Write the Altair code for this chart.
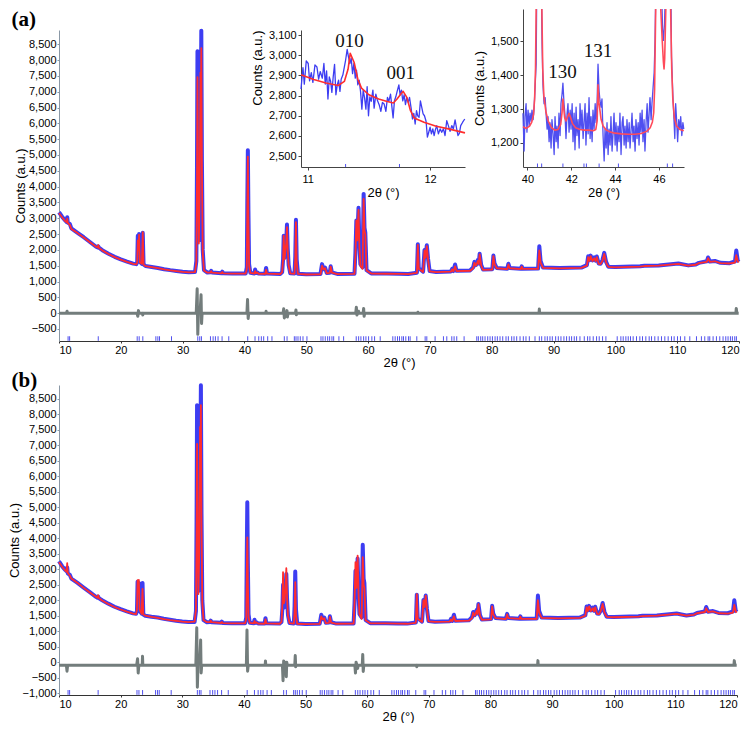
import altair as alt
import pandas as pd

# ---------------- main patterns (panel a & b) ----------------
tt_main = [10.0, 10.5, 11.0, 11.25, 11.33, 11.42, 11.75, 12.0, 13.0, 14.0, 15.0, 16.0, 16.25, 16.35, 16.45,
           17.0, 18.0, 19.0, 20.0, 21.0, 22.0, 22.5, 22.65, 22.75, 22.85, 22.95, 23.08, 23.4, 23.55, 23.68,
           24.0, 25.0, 26.0, 27.0, 28.0, 29.0, 30.0, 31.0, 32.0, 32.22, 32.32, 32.40, 32.50, 32.62, 32.75,
           32.88, 32.95, 33.02, 33.12, 33.25, 33.45, 34.0, 34.5, 34.62, 34.75, 36.3, 36.42, 36.55, 38.0,
           40.2, 40.38, 40.46, 40.55, 40.64, 40.75, 40.95, 41.6, 41.72, 41.85, 42.05, 42.3, 43.35, 43.5,
           43.65, 45.8, 46.1, 46.25, 46.35, 46.48, 46.6, 46.75, 46.88, 47.0, 47.15, 47.4, 48.1, 48.22,
           48.33, 48.45, 48.65, 50.0, 52.3, 52.55, 52.8, 53.05, 53.3, 53.8, 53.95, 54.15, 55.0, 57.8,
           57.95, 58.1, 58.25, 58.45, 58.6, 58.75, 59.1, 59.28, 59.42, 59.55, 59.75, 60.5, 63.0, 65.0,
           66.5, 67.9, 68.05, 68.2, 68.9, 69.13, 69.3, 69.5, 69.7, 69.95, 71.0, 73.4, 73.6, 73.8, 74.07,
           74.3, 76.5, 77.0, 77.2, 77.45, 77.75, 77.9, 78.05, 78.3, 78.6, 80.1, 80.27, 80.45, 80.8, 82.5,
           82.7, 82.9, 84.7, 84.85, 85.0, 87.5, 87.7, 87.9, 88.3, 91.0, 94.5, 95.4, 95.6, 95.8, 96.0,
           96.3, 96.6, 96.8, 97.0, 97.3, 97.6, 97.9, 98.2, 98.5, 98.85, 100.0, 104.0, 104.7, 107.0,
           110.2, 111.8, 113.0, 113.5, 114.8, 115.0, 115.3, 116.1, 117.0, 118.5, 119.35, 119.56, 119.8,
           119.95]
calc_a = [3160, 3030, 2910, 2870, 2990, 2850, 2790, 2660, 2530, 2390, 2240, 2100, 2080, 2150, 2060,
          1985, 1870, 1770, 1690, 1620, 1560, 1545, 1600, 2300, 2000, 2480, 1600, 1560, 2560, 1530,
          1485, 1455, 1420, 1385, 1355, 1330, 1305, 1290, 1300, 1600, 4200, 7460, 4300, 2200, 3600,
          7600, 6800, 8380, 4500, 1900, 1350, 1280, 1285, 1330, 1280, 1260, 1300, 1258, 1250,
          1250, 1400, 3200, 4950, 3000, 1500, 1270, 1250, 1330, 1265, 1285, 1245, 1240, 1370,
          1250, 1235, 1300, 1700, 2450, 1700, 1930, 2200, 2716, 2000, 1500, 1260, 1245, 1700,
          2874, 1600, 1240, 1222, 1230, 1500, 1380, 1420, 1260, 1270, 1470, 1280, 1235, 1240,
          1800, 2930, 2300, 3265, 2100, 1500, 1400, 3612, 2600, 2500, 1350, 1250, 1245, 1240,
          1235, 1270, 2160, 1400, 1300, 1980, 1750, 2117, 1700, 1320, 1295, 1310, 1380, 1320, 1480,
          1330, 1340, 1420, 1593, 1500, 1650, 1550, 1861, 1500, 1370, 1380, 1801, 1550, 1420, 1390,
          1540, 1420, 1395, 1470, 1400, 1400, 1981, 1600, 1430, 1415, 1430, 1500, 1771, 1650, 1801,
          1650, 1735, 1640, 1770, 1560, 1550, 1650, 1870, 1600, 1460, 1450, 1470, 1490, 1500,
          1560, 1500, 1530, 1580, 1620, 1738, 1620, 1640, 1580, 1570, 1600, 1835, 1640,
          1600]
obs_a = [3190, 3050, 2930, 2880, 3030, 2860, 2820, 2680, 2540, 2400, 2250, 2100, 2080, 2110, 2070,
         1990, 1880, 1780, 1700, 1630, 1565, 1550, 1620, 2450, 2050, 2500, 1620, 1560, 2540, 1540,
         1490, 1460, 1430, 1390, 1360, 1335, 1310, 1295, 1300, 1650, 4600, 8280, 4800, 2300, 4000,
         7890, 7000, 8930, 4800, 2000, 1360, 1285, 1290, 1340, 1285, 1265, 1310, 1262, 1255,
         1255, 1450, 3400, 5150, 3250, 1550, 1275, 1255, 1380, 1270, 1290, 1250, 1245, 1430,
         1255, 1240, 1300, 1700, 2450, 1750, 1950, 2250, 2800, 2050, 1520, 1265, 1250, 1800,
         2950, 1700, 1245, 1228, 1240, 1550, 1390, 1440, 1270, 1280, 1480, 1290, 1240, 1245,
         1900, 2930, 2350, 3330, 2150, 1550, 1450, 3770, 2700, 2550, 1360, 1255, 1250, 1245,
         1240, 1280, 2180, 1420, 1310, 2000, 1780, 2150, 1720, 1330, 1300, 1320, 1400, 1330, 1540,
         1340, 1350, 1450, 1620, 1520, 1680, 1570, 1880, 1520, 1380, 1390, 1820, 1570, 1430, 1400,
         1560, 1430, 1400, 1480, 1405, 1410, 2117, 1650, 1440, 1425, 1440, 1520, 1800, 1670, 1820,
         1670, 1760, 1660, 1790, 1570, 1560, 1670, 1907, 1620, 1470, 1460, 1480, 1500, 1510,
         1570, 1510, 1540, 1590, 1640, 1760, 1630, 1650, 1590, 1580, 1640, 1981, 1660,
         1620]
calc_b = [3230, 3080, 2960, 2920, 3200, 2880, 2800, 2700, 2560, 2400, 2250, 2110, 2080, 2160, 2070,
          1990, 1880, 1780, 1700, 1630, 1570, 1555, 1700, 2650, 2300, 2660, 1700, 1560, 2370, 1540,
          1500, 1460, 1430, 1390, 1360, 1335, 1310, 1295, 1310, 1700, 4000, 7050, 4200, 2200, 3500,
          7600, 6800, 8300, 4400, 1900, 1360, 1290, 1290, 1340, 1290, 1265, 1300, 1262, 1255,
          1255, 1400, 2800, 4030, 2600, 1450, 1270, 1255, 1330, 1265, 1285, 1245, 1240, 1380,
          1250, 1240, 1300, 1900, 2906, 1900, 2000, 2400, 3035, 2100, 1500, 1260, 1245, 1600,
          2586, 1500, 1240, 1228, 1235, 1480, 1380, 1420, 1260, 1270, 1460, 1280, 1240, 1245,
          1900, 3227, 2400, 3440, 2200, 1550, 1400, 3388, 2500, 2400, 1350, 1255, 1250, 1245,
          1240, 1270, 2200, 1400, 1300, 2000, 1780, 2150, 1720, 1320, 1300, 1310, 1380, 1320, 1480,
          1330, 1340, 1420, 1600, 1500, 1660, 1550, 1870, 1500, 1370, 1380, 1800, 1550, 1420, 1390,
          1540, 1420, 1395, 1470, 1400, 1400, 2000, 1600, 1430, 1415, 1430, 1500, 1780, 1650, 1800,
          1650, 1740, 1640, 1770, 1560, 1550, 1650, 1880, 1600, 1460, 1450, 1470, 1490, 1500,
          1560, 1500, 1530, 1580, 1620, 1740, 1620, 1640, 1580, 1570, 1600, 1850, 1640,
          1600]
obs_b = [3260, 3100, 2980, 2930, 3060, 2870, 2820, 2700, 2560, 2410, 2260, 2110, 2080, 2120, 2070,
         2000, 1890, 1790, 1710, 1640, 1575, 1560, 1650, 2600, 2100, 2560, 1650, 1570, 2560, 1540,
         1500, 1465, 1440, 1400, 1370, 1340, 1315, 1300, 1300, 1650, 4600, 8300, 4800, 2300, 4000,
         7850, 7000, 8940, 4800, 2000, 1360, 1290, 1295, 1340, 1290, 1270, 1310, 1265, 1258,
         1258, 1450, 3400, 5160, 3200, 1550, 1275, 1258, 1370, 1270, 1290, 1250, 1245, 1420,
         1255, 1245, 1300, 1750, 2500, 1760, 1950, 2300, 2850, 2050, 1520, 1265, 1250, 1800,
         2926, 1700, 1245, 1232, 1240, 1530, 1390, 1440, 1270, 1280, 1480, 1290, 1245, 1250,
         1900, 2950, 2350, 3350, 2150, 1550, 1450, 3792, 2700, 2550, 1360, 1260, 1255, 1250,
         1245, 1280, 2180, 1420, 1310, 2010, 1790, 2150, 1720, 1330, 1305, 1320, 1400, 1330, 1530,
         1340, 1350, 1450, 1620, 1520, 1680, 1570, 1880, 1520, 1380, 1390, 1820, 1570, 1430, 1400,
         1560, 1430, 1400, 1480, 1405, 1410, 2150, 1650, 1440, 1425, 1440, 1520, 1800, 1670, 1820,
         1670, 1760, 1660, 1790, 1570, 1560, 1670, 1910, 1620, 1470, 1460, 1480, 1500, 1510,
         1570, 1510, 1540, 1590, 1640, 1780, 1630, 1650, 1590, 1580, 1640, 2000, 1660,
         1620]

tt_diff = [10.0, 11.2, 11.3, 11.4, 22.6, 22.75, 22.85, 22.95, 23.5, 23.55, 23.6, 32.2, 32.35, 32.45,
           32.55, 32.85, 32.98, 33.06, 33.15, 40.4, 40.5, 40.6, 40.7, 43.45, 43.5, 43.55, 46.25,
           46.35, 46.45, 46.8, 46.88, 46.95, 47.05, 48.25, 48.33, 48.4, 48.5, 58.0, 58.1, 58.2, 58.45,
           58.55, 59.2, 59.28, 59.36, 59.45, 68.0, 68.05, 68.1, 87.65, 87.7, 87.75, 119.5, 119.56,
           119.65, 119.95]
diff_a = [0, 0, 60, 0, 0, -100, 80, 0, 0, -60, 0, 0, 770, -670,
          0, 120, 580, -330, 0, 0, 430, -170, 0, 0, 60, 0, 0,
          140, -150, 0, 80, -120, 0, 0, 100, -50, 0, 0, 190, -60, 60,
          0, 0, 150, -100, 0, 0, 30, 0, 0, 130, 0, 0, 150,
          0, 0]
diff_b = [-100, -100, -290, -100, -100, 110, -350, -100, -100, 190, -100, -100, 1110, -810,
          -100, 100, 715, -350, -100, -100, 1035, -290, -100, -100, 40, -100, -100,
          -600, 40, -100, -470, 0, -100, -100, 215, -150, -100, -100, -350, 0, -200,
          -100, -100, 250, -300, -100, -100, -150, -100, -100, 50, -100, -100, 50,
          -100, -100]

refl = [11.47, 11.72, 16.35, 22.65, 22.97, 23.56, 25.67, 25.99, 26.26, 28.2, 32.45, 32.77, 33.04,
        34.5, 34.93, 35.3, 35.73, 36.38, 37.46, 40.53, 41.71, 42.31, 42.73, 43.11, 43.76, 44.45,
        46.45, 46.89, 48.07, 48.34, 48.66, 49.03, 49.47, 50.11, 52.38, 52.7, 53.07, 53.46, 53.78,
        54.15, 54.43, 55.28, 56.04, 58.08, 58.47, 58.84, 59.28, 59.65, 60.08, 60.61, 61.05, 61.96,
        64.0, 64.38, 64.76, 65.08, 65.46, 65.73, 66.1, 66.54, 66.8, 67.88, 69.23, 69.5, 70.84,
        72.19, 72.73, 73.54, 73.91, 74.34, 75.53, 77.58, 77.84, 78.22, 78.54, 78.92, 79.35, 79.73,
        80.11, 80.54, 80.91, 81.34, 81.78, 82.31, 82.69, 83.23, 83.61, 84.04, 84.58, 85.11, 85.54,
        86.08, 87.0, 87.7, 88.08, 88.61, 88.99, 89.42, 89.8, 90.34, 90.77, 91.2, 91.68, 92.11,
        92.55, 92.92, 93.35, 93.73, 94.27, 94.97, 95.51, 95.88, 96.42, 96.96, 97.39, 97.93, 98.47,
        100.3, 100.89, 101.27, 101.7, 102.08, 102.45, 102.88, 103.42, 103.96, 104.39, 104.93,
        105.47, 105.85, 106.38, 106.92, 107.46, 108.0, 108.54, 109.08, 109.51, 110.05, 110.53,
        111.23, 112.04, 113.12, 113.92, 114.46, 115.0, 115.27, 115.81, 116.35, 116.89, 117.42,
        117.86, 118.23, 118.61, 118.93, 119.31, 119.58]

# panel letters, placed in each panel's own data space (left of / above the plot)
panel_lab = ["(a)", "(b)"]
panel_lab_x = [2.3, 2.3]
panel_lab_y = [9270, 9080]

# ---------------- inset 1 (010 / 001) ----------------
ins1_x = [10.946, 10.962, 10.973, 10.989, 11.005, 11.016, 11.030, 11.043, 11.060, 11.076, 11.090,
          11.103, 11.120, 11.133, 11.144, 11.155, 11.166, 11.177, 11.188, 11.198, 11.209, 11.220,
          11.231, 11.242, 11.253, 11.264, 11.274, 11.288, 11.299, 11.310, 11.323, 11.334, 11.345,
          11.356, 11.367, 11.378, 11.389, 11.399, 11.410, 11.421, 11.432, 11.443, 11.454, 11.465,
          11.476, 11.486, 11.497, 11.508, 11.519, 11.533, 11.543, 11.557, 11.571, 11.584, 11.598,
          11.611, 11.625, 11.639, 11.652, 11.663, 11.677, 11.688, 11.698, 11.709, 11.720, 11.731,
          11.745, 11.755, 11.766, 11.777, 11.788, 11.799, 11.810, 11.821, 11.832, 11.845, 11.856,
          11.867, 11.878, 11.889, 11.899, 11.910, 11.921, 11.932, 11.943, 11.954, 11.967, 11.978,
          11.989, 12.000, 12.011, 12.022, 12.033, 12.043, 12.054, 12.068, 12.082, 12.095, 12.109,
          12.122, 12.136, 12.149, 12.163, 12.177, 12.190, 12.204, 12.217, 12.228, 12.239, 12.250,
          12.266, 12.283]
ins1_obs = [2832, 2939, 2857, 2972, 2959, 2873, 2914, 2865, 2952, 2942, 2881,
            2919, 2886, 2959, 2857, 2922, 2783, 2893, 2870, 2816, 2893, 2955,
            2804, 2853, 2876, 2821, 2881, 2903, 2939, 2975, 3029, 2991, 2959,
            2985, 2909, 2959, 2886, 2926, 2853, 2876, 2821, 2733, 2827, 2788,
            2733, 2844, 2700, 2794, 2771, 2827, 2738, 2807, 2774, 2755, 2722,
            2766, 2758, 2722, 2791, 2771, 2807, 2745, 2689, 2774, 2794, 2821,
            2853, 2804, 2827, 2774, 2804, 2755, 2791, 2766, 2791, 2738, 2684,
            2712, 2659, 2725, 2700, 2692, 2774, 2742, 2709, 2700, 2673, 2594,
            2618, 2643, 2610, 2635, 2602, 2630, 2651, 2610, 2635, 2618, 2635,
            2602, 2676, 2651, 2623, 2651, 2635, 2679, 2635, 2602, 2613, 2651,
            2668, 2684]
ins1_cx = [10.946, 11.05, 11.15, 11.25, 11.30, 11.33, 11.348, 11.38, 11.41, 11.44, 11.50, 11.58,
           11.65, 11.70, 11.73, 11.76, 11.78, 11.81, 11.84, 11.87, 11.95, 12.05, 12.15, 12.285]
ins1_calc = [2903, 2880, 2862, 2850, 2870, 2930, 3010, 2964, 2881, 2837, 2804, 2783,
             2771, 2763, 2783, 2807, 2821, 2791, 2725, 2689, 2668, 2648, 2635, 2615]
ins1_refl = [11.31, 11.75]
ins1_lab_x = [11.342, 11.761]
ins1_lab_y = [3070, 2914]
ins1_lab = ["010", "001"]

# ---------------- inset 2 (130 / 131) ----------------
ins2_x = [39.80, 39.85, 39.89, 39.94, 39.98, 40.03, 40.08, 40.12, 40.17, 40.21, 40.26, 40.30, 40.35,
          40.40, 40.42,
          40.65, 40.67, 40.71, 40.76, 40.81, 40.85, 40.90, 40.94, 40.99, 41.03, 41.08, 41.12, 41.17,
          41.22, 41.26, 41.31, 41.35, 41.40, 41.44, 41.49, 41.53, 41.58, 41.62, 41.67, 41.72, 41.76,
          41.81, 41.85, 41.90, 41.95, 41.99, 42.04, 42.08, 42.13, 42.17, 42.22, 42.26, 42.31, 42.36,
          42.40, 42.45, 42.49, 42.54, 42.58, 42.63, 42.67, 42.72, 42.77, 42.81, 42.86, 42.90, 42.95,
          42.99, 43.04, 43.09, 43.13, 43.18, 43.22, 43.27, 43.31, 43.36, 43.40, 43.45, 43.50, 43.54,
          43.59, 43.63, 43.68, 43.72, 43.77, 43.81, 43.86, 43.91, 43.95, 44.00, 44.04, 44.09, 44.13,
          44.18, 44.22, 44.27, 44.32, 44.36, 44.41, 44.45, 44.50, 44.54, 44.59, 44.64, 44.68, 44.73,
          44.77, 44.82, 44.86, 44.91, 44.95, 45.00, 45.05, 45.09, 45.14, 45.18, 45.23, 45.27, 45.32,
          45.36, 45.41, 45.46, 45.50, 45.55, 45.59, 45.64, 45.68, 45.73, 45.78, 45.82, 45.84,
          46.14, 46.16, 46.20, 46.25, 46.27,
          46.55, 46.57, 46.63, 46.67, 46.72, 46.76, 46.81, 46.85, 46.90, 46.95, 46.99, 47.04, 47.09,
          47.13]
ins2_obs = [1288, 1176, 1278, 1316, 1232, 1297, 1250, 1288, 1264, 1297, 1269, 1297, 1363,
            1433, 1596,
            1596, 1492, 1372, 1316, 1334, 1288, 1241, 1278, 1204, 1260, 1185, 1269, 1227,
            1166, 1278, 1204, 1250, 1185, 1288, 1222, 1316, 1344, 1377, 1316, 1278, 1213,
            1288, 1316, 1232, 1297, 1241, 1316, 1204, 1288, 1180, 1306, 1222, 1269, 1185,
            1316, 1241, 1297, 1213, 1260, 1316, 1194, 1288, 1227, 1334, 1213, 1278, 1204,
            1297, 1241, 1316, 1260, 1325, 1433, 1353, 1325, 1306, 1330, 1222, 1147, 1241,
            1185, 1260, 1166, 1241, 1194, 1278, 1176, 1232, 1288, 1194, 1260, 1176, 1250,
            1204, 1288, 1166, 1260, 1278, 1194, 1250, 1185, 1269, 1204, 1260, 1185, 1241,
            1288, 1204, 1250, 1176, 1269, 1213, 1260, 1194, 1288, 1232, 1297, 1204, 1269,
            1176, 1260, 1316, 1232, 1288, 1334, 1269, 1316, 1363, 1409, 1503, 1596,
            1596, 1540, 1503, 1550, 1596,
            1596, 1456, 1344, 1288, 1213, 1316, 1260, 1204, 1269, 1241, 1278, 1222, 1260,
            1241]
ins2_oseg = [0] * 15 + [1] * 116 + [2] * 5 + [3] * 14
ins2_cx = [39.80, 39.95, 40.10, 40.20, 40.28, 40.33, 40.37, 40.40,
           40.66, 40.70, 40.75, 40.85, 40.95, 41.10, 41.25, 41.40, 41.52, 41.58, 41.62, 41.66, 41.70,
           41.76, 41.85, 41.90, 41.97, 42.05, 42.20, 42.40, 42.60, 42.80, 43.00, 43.12, 43.18, 43.22,
           43.26, 43.30, 43.36, 43.45, 43.60, 43.80, 44.00, 44.30, 44.60, 44.90, 45.20, 45.45, 45.60,
           45.70, 45.76, 45.80, 45.85,
           46.08, 46.15, 46.20, 46.23, 46.26, 46.31,
           46.53, 46.58, 46.63, 46.70, 46.80, 46.95, 47.13]
ins2_calc = [1248, 1243, 1250, 1262, 1285, 1330, 1420, 1596,
             1596, 1420, 1340, 1290, 1265, 1245, 1238, 1240, 1255, 1290, 1330, 1300, 1275,
             1265, 1280, 1288, 1275, 1258, 1245, 1240, 1238, 1238, 1236, 1240, 1265, 1372,
             1320, 1300, 1270, 1250, 1238, 1232, 1229, 1227, 1226, 1226, 1228, 1235, 1245,
             1262, 1290, 1360, 1596,
             1596, 1500, 1440, 1419, 1450, 1596,
             1596, 1420, 1330, 1275, 1250, 1240, 1236]
ins2_cseg = [0] * 8 + [1] * 43 + [2] * 6 + [3] * 7
ins2_refl = [40.46, 40.65, 41.62, 42.58, 42.69, 43.27, 44.15, 46.38, 46.62]
ins2_lab_x = [41.60, 43.22]
ins2_lab_y = [1410, 1471]
ins2_lab = ["130", "131"]

# ---------------- styling ----------------
BLUE = "#3d3df2"
RED = "#ff2d2d"
GRAY = "#737d7c"
TICKB = "#5050ee"
SANS = "Liberation Sans"
SERIF = "Liberation Serif"
FMT = ",.0f"

HA = 311
HB = 310
WA = 680
WB = 678


def main_layer(calc, obs, diff, ydom, yvals, tick_lo, tick_hi, lab_i):
    xs = alt.Scale(domain=[10, 120], nice=False, zero=False)
    ys = alt.Scale(domain=ydom, nice=False, zero=False)
    xax = alt.Axis(values=list(range(10, 121, 10)), title="2θ (°)", orient="bottom", format="d",
                   tickSize=2, labelPadding=1, titlePadding=1, domainColor="#333333",
                   tickColor="#333333")
    yax = alt.Axis(values=yvals, format=FMT, title="Counts (a.u.)", orient="left",
                   tickSize=2, labelPadding=1, titlePadding=1, domainColor="#8a98a6",
                   tickColor="#8a98a6")
    df = pd.DataFrame({"tt": tt_main, "obs": obs, "calc": calc})
    dd = pd.DataFrame({"tt": tt_diff, "d": diff})
    rf = pd.DataFrame({"tt": refl})
    lb = pd.DataFrame({"tt": [panel_lab_x[lab_i]], "y": [panel_lab_y[lab_i]],
                       "t": [panel_lab[lab_i]]})
    X = alt.X("tt:Q", scale=xs, axis=xax)
    diff_l = alt.Chart(dd).mark_line(color=GRAY, strokeWidth=3, strokeJoin="round").encode(
        x=X, y=alt.Y("d:Q", scale=ys, axis=yax))
    ticks = alt.Chart(rf).mark_rule(color=TICKB, strokeWidth=1).encode(
        x=X, y=alt.YDatum(tick_lo, scale=ys, axis=yax), y2=alt.Y2Datum(tick_hi))
    obs_l = alt.Chart(df).mark_line(color=BLUE, strokeWidth=4, strokeJoin="round").encode(
        x=X, y=alt.Y("obs:Q", scale=ys, axis=yax))
    calc_l = alt.Chart(df).mark_line(color=RED, strokeWidth=1.8, strokeJoin="round").encode(
        x=X, y=alt.Y("calc:Q", scale=ys, axis=yax))
    lab = alt.Chart(lb).mark_text(font=SERIF, fontSize=21, fontWeight="bold", color="black",
                                  align="left", baseline="middle").encode(
        x=X, y=alt.Y("y:Q", scale=ys, axis=yax), text="t:N")
    return alt.layer(diff_l, ticks, obs_l, calc_l, lab)


def inset_layer(ox, oy, oseg, cx, cy, cseg, rfl, lx, ly, lt, xdom, xrange, ydom, yrange,
                xvals, yvals, y_off, title_anchor, ocolor, ccolor):
    xs = alt.Scale(domain=xdom, range=xrange, nice=False, zero=False)
    ys = alt.Scale(domain=ydom, range=yrange, nice=False, zero=False)
    xax = alt.Axis(values=xvals, title="2θ (°)", orient="bottom", offset=y_off, format="d",
                   tickSize=3, labelPadding=3, titlePadding=2, domainColor="#444444",
                   tickColor="#444444")
    yax = alt.Axis(values=yvals, format=FMT, title="Counts (a.u.)", orient="left",
                   offset=-xrange[0], tickSize=3, labelPadding=2, titlePadding=4,
                   titleAnchor=title_anchor, domainColor="#444444", tickColor="#444444")
    X = alt.X("x:Q", scale=xs, axis=xax)
    od = pd.DataFrame({"x": ox, "y": oy, "s": oseg})
    cd = pd.DataFrame({"x": cx, "y": cy, "s": cseg})
    rd = pd.DataFrame({"x": rfl})
    ld = pd.DataFrame({"x": lx, "y": ly, "t": lt})
    o = alt.Chart(od).mark_line(color=ocolor, strokeWidth=1.3, strokeJoin="round").encode(
        x=X, y=alt.Y("y:Q", scale=ys, axis=yax), detail="s:N")
    c = alt.Chart(cd).mark_line(color=ccolor, strokeWidth=1.6, strokeJoin="round").encode(
        x=X, y=alt.Y("y:Q", scale=ys, axis=yax), detail="s:N")
    tk = alt.Chart(rd).mark_rule(color=TICKB, strokeWidth=1).encode(
        x=X, y=alt.YDatum(ydom[0], scale=ys, axis=yax),
        y2=alt.Y2Datum(ydom[0] + (ydom[1] - ydom[0]) * 0.022))
    tx = alt.Chart(ld).mark_text(font=SERIF, fontSize=19, color="#111111",
                                 baseline="middle", align="center").encode(
        x=X, y=alt.Y("y:Q", scale=ys, axis=yax), text="t:N")
    return alt.layer(o, c, tk, tx)


main_a = main_layer(calc_a, obs_a, diff_a, [-880, 8950], list(range(-500, 8501, 500)),
                    -875, -730, 0)

inset1 = inset_layer(ins1_x, ins1_obs, [0] * len(ins1_x), ins1_cx, ins1_calc, [0] * len(ins1_cx),
                     ins1_refl, ins1_lab_x, ins1_lab_y, ins1_lab,
                     [10.946, 12.285], [242, 406], [2446, 3125], [137, 0],
                     [11, 12], list(range(2500, 3101, 100)), 137 - HA, "end", BLUE, RED)

inset2 = inset_layer(ins2_x, ins2_obs, ins2_oseg, ins2_cx, ins2_calc, ins2_cseg,
                     ins2_refl, ins2_lab_x, ins2_lab_y, ins2_lab,
                     [39.80, 47.14], [464, 625], [1129, 1596], [137, -21],
                     [40, 42, 44, 46], [1200, 1300, 1400, 1500], 137 - HA, "middle",
                     "#4f4ff0", "#ff4a5a")

panel_a = alt.layer(main_a, inset1, inset2).resolve_scale(
    x="independent", y="independent").properties(width=WA, height=HA)

main_b = main_layer(calc_b, obs_b, diff_b, [-1060, 8950], list(range(-1000, 8501, 500)),
                    -1055, -900, 1)
panel_b = main_b.properties(width=WB, height=HB)

chart = alt.vconcat(panel_a, panel_b, spacing=0).properties(
    padding={"left": 0, "top": 0, "right": 0, "bottom": 0}
).configure_view(stroke=None).configure_axis(
    grid=False, labelFont=SANS, titleFont=SANS, labelFontSize=11, titleFontSize=13,
    titleFontWeight="normal", labelColor="black", titleColor="black")

chart.save("out.html", embed_options={"renderer": "svg", "actions": False})
